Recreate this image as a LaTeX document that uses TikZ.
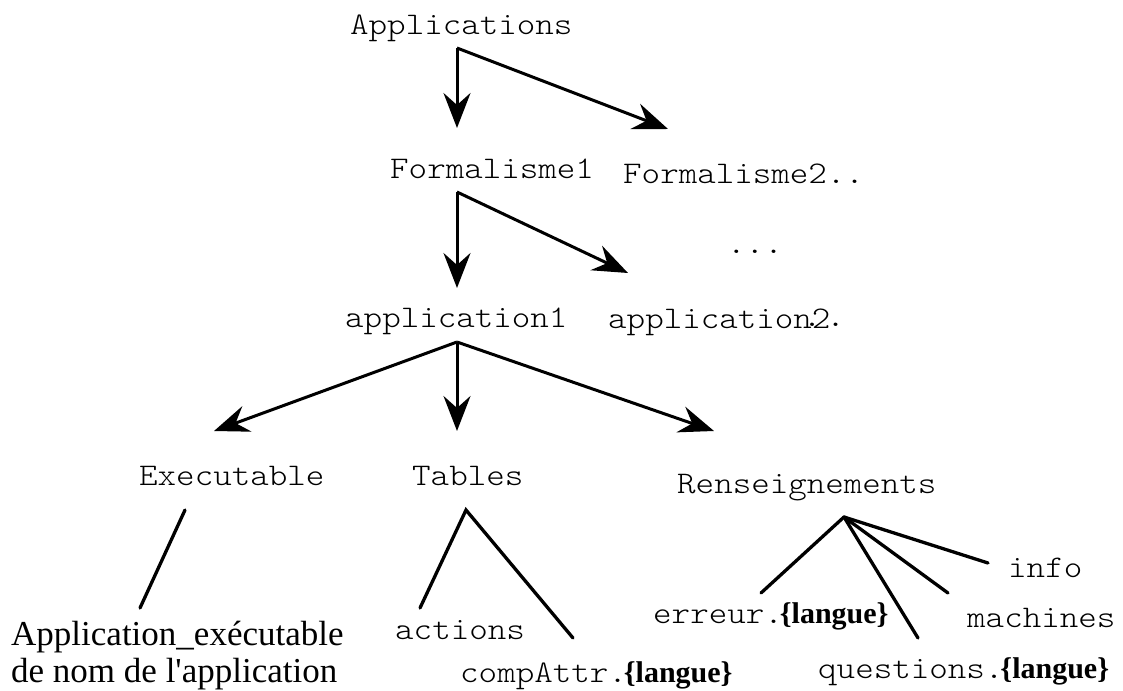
\documentclass[tikz,border=0pt]{standalone}
\usepackage{fontspec}
\newfontfamily\seriffam{Liberation Serif}
\newfontfamily\monofam{Latin Modern Mono Light}[FakeStretch=1.12]
\usetikzlibrary{arrows.meta}

\tikzset{
  lbl/.style={inner sep=0pt, anchor=base west, font=\monofam\fontsize{31.5}{36}\selectfont},
  serif/.style={inner sep=0pt, anchor=base west, align=left, font=\seriffam\fontsize{35}{37}\selectfont},
  arr/.style={line width=3pt, -{Stealth[length=35pt, width=27pt, inset=12pt]}},
  branch/.style={line width=3.3pt, line cap=round, line join=miter}
}
\newcommand{\lang}{\hspace{-3pt}{\seriffam\bfseries\fontsize{30}{32}\selectfont\{langue\}}}

\begin{document}
\begin{tikzpicture}[x=1pt, y=-1pt]
\useasboundingbox (0,0) rectangle (1123,690);

% level 0 to 2
\node[lbl] (apps) at (350,35) {Applications};
\node[lbl] (f1)   at (390,178) {Formalisme1};
\node[lbl] (f2)   at (623,183) {Formalisme2..};
\node[lbl] (more) at (727,253) {...};
\node[lbl] (a2)   at (608,328) {application2};
\node[lbl] (a1)   at (345,327) {application1};
\node[lbl, anchor=base] (a2dots) at (824,326) {.\hspace{5pt}.};

% level 3
\node[lbl] (exe) at (139,485) {Executable};
\node[lbl] (tab) at (412,485) {Tables};
\node[lbl] (ren) at (677,493) {Renseignements};

% leaves
\node[serif] (appexe) at (11,682) {Application\_exécutable\\de nom de l'application};
\node[lbl] (actions)   at (395,639) {actions};
\node[lbl] (compattr)  at (460,682) {compAttr.\lang};
\node[lbl] (erreur)    at (653,623) {erreur.\lang};
\node[lbl] (info)      at (1008,577) {info};
\node[lbl] (machines)  at (967,627) {machines};
\node[lbl] (questions) at (818,678) {questions.\lang};

% branching points and arrow tips
\coordinate (j1) at (457,48);
\coordinate (j2) at (457,192);
\coordinate (j3) at (457,342);
\coordinate (t-f1) at (457,128);
\coordinate (t-f2) at (668,129);
\coordinate (t-a1) at (457,288);
\coordinate (t-a2) at (628,273);
\coordinate (t-exe) at (214,431);
\coordinate (t-tab) at (457,431);
\coordinate (t-ren) at (714,431);

\draw[arr] (j1) -- (t-f1);
\draw[arr] (j1) -- (t-f2);
\draw[arr] (j2) -- (t-a1);
\draw[arr] (j2) -- (t-a2);
\draw[arr] (j3) -- (t-exe);
\draw[arr] (j3) -- (t-tab);
\draw[arr] (j3) -- (t-ren);

% plain branches below level 3
\coordinate (exe-top) at (185,510);
\coordinate (exe-bot) at (140,608);
\draw[branch] (exe-top) -- (exe-bot);

\coordinate (tab-top) at (466,510);
\coordinate (tab-l) at (420,608);
\coordinate (tab-r) at (573,638);
\draw[branch] (tab-l) -- (tab-top) -- (tab-r);

\coordinate (ren-top) at (844,517);
\coordinate (ren-e) at (761,593);
\coordinate (ren-q) at (918,638);
\coordinate (ren-m) at (948,593);
\coordinate (ren-i) at (988,563);
\draw[branch] (ren-top) -- (ren-e);
\draw[branch] (ren-top) -- (ren-q);
\draw[branch] (ren-top) -- (ren-m);
\draw[branch] (ren-top) -- (ren-i);
\end{tikzpicture}
\end{document}
